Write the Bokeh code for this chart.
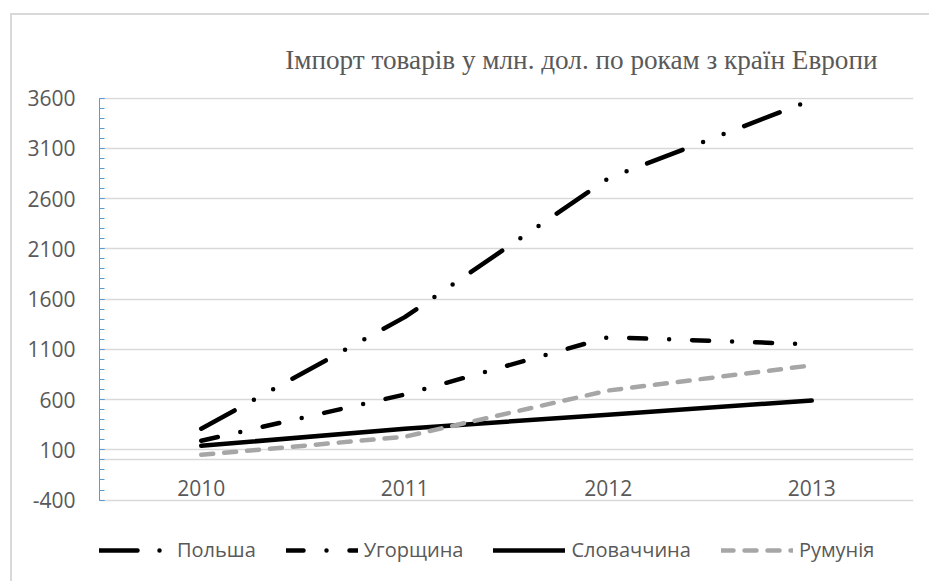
from bokeh.plotting import figure
from bokeh.models import (FactorRange, Range1d, FixedTicker, CategoricalAxis, LinearAxis,
                          Grid, Legend, LegendItem, ColumnDataSource)
from bokeh.embed import file_html
from bokeh.resources import INLINE

# ---- data ----
years = ["2010", "2011", "2012", "2013"]
poland = [310, 1420, 2800, 3580]
hungary = [190, 650, 1220, 1150]
slovakia = [140, 310, 450, 590]
romania = [50, 230, 690, 940]
series_names = ["Польша", "Угорщина", "Словаччина", "Румунія"]
y_ticks = [-400, 100, 600, 1100, 1600, 2100, 2600, 3100, 3600]
y_minor = list(range(-400, 3601, 100))
title_text = "Імпорт товарів у млн. дол. по рокам з країн Европи"

GRAY_TXT = "#595959"
GRID = "#d9d9d9"
AXIS_BLUE = "#5b9bd5"
FONT = "Open Sans"

src = ColumnDataSource(dict(year=years, poland=poland, hungary=hungary,
                            slovakia=slovakia, romania=romania))

# frame extends to the bottom so the legend (drawn inside the frame) is not clipped
p = figure(width=929, height=581, x_range=FactorRange(*years), y_range=Range1d(-1210, 3605),
           output_backend="svg", toolbar_location=None,
           x_axis_location=None, y_axis_location=None,
           min_border_left=99, min_border_right=16, min_border_top=97, min_border_bottom=0)
for g in p.grid:
    g.visible = False
p.outline_line_color = None
p.background_fill_color = "white"
p.border_fill_alpha = 0
p.styles = {"box-shadow": "inset 10px 13px 0 0 white, inset 12px 15px 0 0 #d9d9d9"}

# title
p.title.text = title_text
p.title.align = "right"
p.title.offset = 36
p.title.standoff = 45
p.title.text_font = "Liberation Serif"
p.title.text_font_size = "27.2px"
p.title.text_font_style = "normal"
p.title.text_color = GRAY_TXT

# y axis
yt = FixedTicker(ticks=y_ticks, minor_ticks=y_minor)
yaxis = LinearAxis(ticker=yt, bounds=(-400, 3600),
                   axis_line_color=AXIS_BLUE, axis_line_width=1,
                   major_tick_line_color=AXIS_BLUE, minor_tick_line_color=AXIS_BLUE,
                   major_tick_in=5, major_tick_out=0, minor_tick_in=5, minor_tick_out=0,
                   major_label_text_font=FONT, major_label_text_font_size="21px",
                   major_label_text_color=GRAY_TXT, major_label_standoff=24,
                   major_label_overrides={-400: "-400"})
p.add_layout(yaxis, "left")
p.add_layout(Grid(dimension=1, ticker=yt, grid_line_color=GRID, grid_line_width=1.3))

# x axis crossing at 0
xaxis = CategoricalAxis(fixed_location=0, axis_line_color=GRID, axis_line_width=1.3,
                        major_tick_line_color=None, minor_tick_line_color=None,
                        major_label_text_font=FONT, major_label_text_font_size="21px",
                        major_label_text_color=GRAY_TXT, major_label_standoff=14)
p.add_layout(xaxis, "below")

# series
common = dict(source=src, line_width=4.5, line_cap="round", line_join="round")
r1 = p.line("year", "poland", line_color="black", line_dash="38 22 0 22 0 22", **common)
r2 = p.line("year", "hungary", line_color="black", line_dash="17 23 0 23", **common)
r3 = p.line("year", "slovakia", line_color="black", **common)
r4 = p.line("year", "romania", line_color="#a6a6a6", line_dash="12 11", **common)

legend = Legend(items=[LegendItem(label=n, renderers=[r]) for n, r in
                       zip(series_names, [r1, r2, r3, r4])],
                orientation="horizontal", location=(0, 18),
                glyph_width=72, glyph_height=24, label_height=24, label_standoff=6,
                spacing=30, padding=0, margin=0,
                border_line_color=None, background_fill_alpha=0,
                label_text_font=FONT, label_text_font_size="20px",
                label_text_color=GRAY_TXT)
p.add_layout(legend)

open("out.html", "w").write(file_html(p, INLINE))
